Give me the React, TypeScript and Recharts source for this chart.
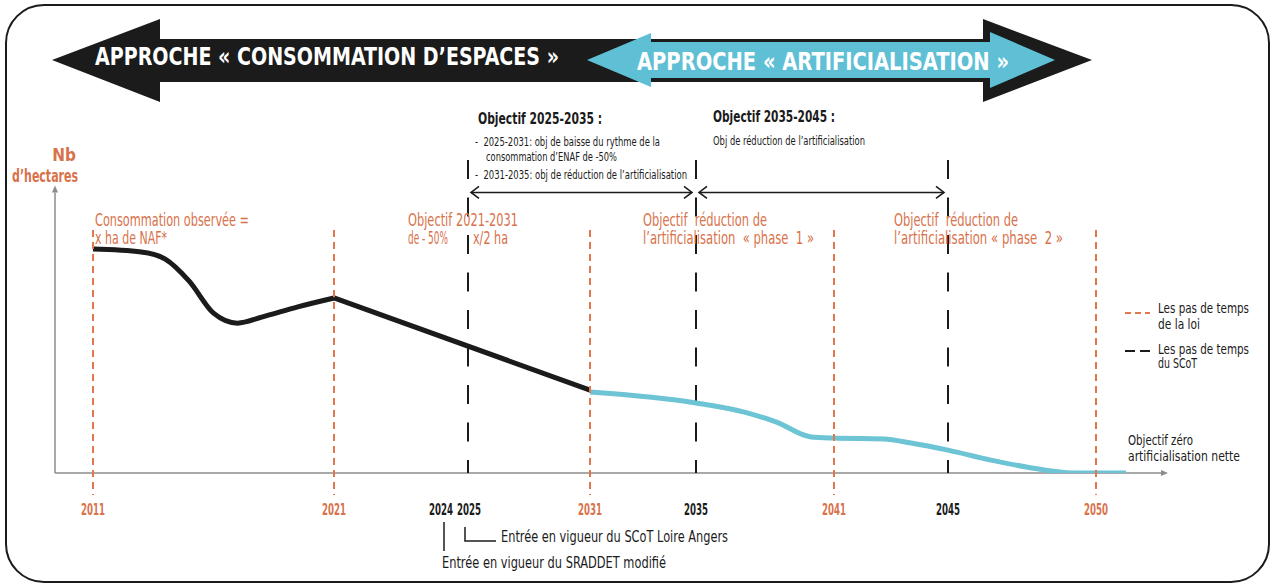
import React from 'react';
import { LineChart, Line, XAxis, YAxis, ReferenceLine } from 'recharts';

const FONT = "'Liberation Sans Narrow', 'DejaVu Sans Condensed', 'Arial Narrow', sans-serif";
const ORANGE = '#e2764d';
const ORANGE_TXT = '#d8724b';
const CYAN = '#6cc4d5';
const CYAN_ARROW = '#5fbfd5';
const INK = '#1b1b1b';
const AXIS_GREY = '#8c8c8c';

// ---- data ----
const TICK_YEARS = [2011, 2021, 2024, 2025, 2031, 2035, 2041, 2045, 2050];
const LAW_STEPS = [2011, 2021, 2031, 2041, 2050];
const SCOT_STEPS = [2025, 2035, 2045];
const SCOT_PERIODS = [[2025, 2035], [2035, 2045]];

const OBSERVED_YEARS = [2011, 2013, 2014, 2015, 2016, 2017, 2018, 2019.5, 2021];
const OBSERVED_HA = [78.3, 77.3, 74.8, 67.0, 55.9, 52.4, 54.5, 58.1, 61.2];

const TARGET_YEARS = [2021, 2031];
const TARGET_HA = [61.2, 29.0];

const ARTIF_YEARS = [2031, 2035, 2037.1, 2038.5, 2040, 2041, 2042.75, 2043.7, 2045, 2046.45, 2047.65, 2049.25, 2050, 2051];
const ARTIF_HA = [28.3, 24.5, 21.3, 17.8, 12.6, 12.2, 11.9, 10.5, 8.0, 4.5, 2.1, 0, 0, 0];

const zip = (xs: number[], ys: number[]) => xs.map((year, i) => ({ year, ha: ys[i] }));

// the time axis of the drawing is not linear, every marked year has its own spot
const AXIS_START = 2009.4;
const AXIS_END = 2052.4;
const KNOT_YEARS = [AXIS_START, 2011, 2021, 2024, 2025, 2031, 2035, 2041, 2045, 2050, AXIS_END];
const KNOT_PX = [55, 93, 334, 441, 468, 590, 696, 834, 948, 1096, 1168];

function yearScale(): any {
  let dom = [AXIS_START, AXIS_END];
  let rng = [0, 1];
  const p0 = KNOT_PX[0];
  const pn = KNOT_PX[KNOT_PX.length - 1];
  const frac = (v: number) => {
    let i = 0;
    while (i < KNOT_YEARS.length - 2 && v > KNOT_YEARS[i + 1]) i++;
    const t = (v - KNOT_YEARS[i]) / (KNOT_YEARS[i + 1] - KNOT_YEARS[i]);
    const px = KNOT_PX[i] + t * (KNOT_PX[i + 1] - KNOT_PX[i]);
    return (px - p0) / (pn - p0);
  };
  const s: any = (v: number) => rng[0] + frac(Number(v)) * (rng[1] - rng[0]);
  s.domain = (d?: number[]) => (d === undefined ? dom.slice() : ((dom = d.slice()), s));
  s.range = (r?: number[]) => (r === undefined ? rng.slice() : ((rng = r.slice()), s));
  s.copy = () => yearScale().domain(dom).range(rng);
  s.ticks = () => TICK_YEARS.slice();
  s.tickFormat = () => (v: number) => String(v);
  s.nice = () => s;
  s.clamp = () => s;
  s.invert = (p: number) => {
    const px = p0 + ((p - rng[0]) / (rng[1] - rng[0])) * (pn - p0);
    let i = 0;
    while (i < KNOT_PX.length - 2 && px > KNOT_PX[i + 1]) i++;
    const t = (px - KNOT_PX[i]) / (KNOT_PX[i + 1] - KNOT_PX[i]);
    return KNOT_YEARS[i] + t * (KNOT_YEARS[i + 1] - KNOT_YEARS[i]);
  };
  return s;
}

const AxisArrow = (p: any) => {
  const { x1, y1, x2, y2 } = p;
  const a = Math.atan2(y2 - y1, x2 - x1);
  const bx = x2 - 7 * Math.cos(a);
  const by = y2 - 7 * Math.sin(a);
  const nx = -Math.sin(a) * 3;
  const ny = Math.cos(a) * 3;
  return (
    <g>
      <line x1={x1} y1={y1} x2={bx} y2={by} stroke={AXIS_GREY} strokeWidth={1.5} />
      <polygon points={`${x2},${y2} ${bx + nx},${by + ny} ${bx - nx},${by - ny}`} fill={AXIS_GREY} />
    </g>
  );
};

const DoubleArrow = (p: any) => {
  const y = p.y1;
  const a = p.x1 + 3;
  const b = p.x2 - 4;
  return (
    <g stroke={INK} strokeWidth={1.6} fill="none">
      <line x1={a} y1={y} x2={b} y2={y} />
      <polyline points={`${a + 8},${y - 6} ${a},${y} ${a + 8},${y + 6}`} />
      <polyline points={`${b - 8},${y - 6} ${b},${y} ${b - 8},${y + 6}`} />
    </g>
  );
};

// 2024 and 2025 sit close together, so each label is nudged away from its neighbour
const YearTick = (p: any) => {
  const v = p.payload.value;
  const anchor = v === 2024 ? 'end' : v === 2025 ? 'start' : 'middle';
  const dx = v === 2024 ? 12 : v === 2025 ? -11 : 0;
  return (
    <text x={p.x + dx} y={p.y + 42} textAnchor={anchor} fontFamily={FONT} fontSize={15} fontWeight={700}
      textLength={24} lengthAdjust="spacingAndGlyphs"
      fill={LAW_STEPS.includes(v) ? ORANGE_TXT : INK}>
      {v}
    </text>
  );
};

const T = ({ x, y, w, size = 16, weight = 400, color = INK, anchor = 'start', children }: any) => (
  <text x={x} y={y} fontSize={size} fontWeight={weight} fill={color} textAnchor={anchor} fontFamily={FONT}
    textLength={w} lengthAdjust={w ? 'spacingAndGlyphs' : undefined} style={{ whiteSpace: 'pre' }}>
    {children}
  </text>
);

export default function App() {
  return (
    <div style={{ position: 'relative', width: 1274, height: 585, background: '#fff', fontFamily: FONT }}>
      <style>{`body { margin: 0; }`}</style>
      <div style={{ position: 'absolute', left: 0, top: 0 }}>
        <LineChart width={1274} height={585} margin={{ top: 187, right: 106, bottom: 72, left: 55 }}>
          <XAxis type="number" dataKey="year" domain={[AXIS_START, AXIS_END]} scale={yearScale()}
            ticks={TICK_YEARS} interval={0} tick={<YearTick />} axisLine={false} tickLine={false}
            tickSize={0} tickMargin={0} height={40} allowDataOverflow />
          <YAxis type="number" domain={[0, 100]} hide allowDataOverflow />

          <ReferenceLine segment={[{ x: AXIS_START, y: 0 }, { x: AXIS_END, y: 0 }]} shape={AxisArrow} ifOverflow="visible" />
          <ReferenceLine segment={[{ x: AXIS_START, y: 0 }, { x: AXIS_START, y: 100.5 }]} shape={AxisArrow} ifOverflow="visible" />

          {SCOT_STEPS.map((yr) => (
            <ReferenceLine key={`s${yr}`} segment={[{ x: yr, y: 109.4 }, { x: yr, y: 0 }]}
              stroke={INK} strokeWidth={2} strokeDasharray="19 18.5" ifOverflow="visible" />
          ))}
          {SCOT_PERIODS.map(([a, b]) => (
            <ReferenceLine key={`p${a}`} segment={[{ x: a, y: 98.1 }, { x: b, y: 98.1 }]}
              shape={DoubleArrow} ifOverflow="visible" />
          ))}

          <Line data={zip(OBSERVED_YEARS, OBSERVED_HA)} dataKey="ha" type="monotone" stroke={INK}
            strokeWidth={5} dot={false} activeDot={false} isAnimationActive={false} />
          <Line data={zip(TARGET_YEARS, TARGET_HA)} dataKey="ha" type="linear" stroke={INK}
            strokeWidth={5} dot={false} activeDot={false} isAnimationActive={false} />
          <Line data={zip(ARTIF_YEARS, ARTIF_HA)} dataKey="ha" type="monotone" stroke={CYAN}
            strokeWidth={5} dot={false} activeDot={false} isAnimationActive={false} />

          {LAW_STEPS.map((yr) => (
            <ReferenceLine key={`l${yr}`} segment={[{ x: yr, y: 85 }, { x: yr, y: -7.7 }]}
              stroke={ORANGE} strokeWidth={2} strokeDasharray="7 5" ifOverflow="visible" />
          ))}
        </LineChart>
      </div>

      <svg width={1274} height={585} style={{ position: 'absolute', left: 0, top: 0, pointerEvents: 'none' }}>
        <rect x={6} y={5} width={1263} height={577} rx={38} fill="none" stroke={INK} strokeWidth={2} />

        <polygon points="52,60 160,19 160,39 983,39 983,19 1092,60 983,102 983,82 160,82 160,102" fill={INK} />
        <polygon points="587,60 651,33 651,42 990,42 990,32 1055,60 990,88 990,78 651,78 651,87" fill={CYAN_ARROW} />
        <T x={95} y={65} w={464} size={24} weight={700} color="#fff">APPROCHE « CONSOMMATION D’ESPACES »</T>
        <T x={637} y={70} w={372} size={24} weight={700} color="#fff">APPROCHE « ARTIFICIALISATION »</T>

        <T x={76} y={161} size={17} weight={700} color={ORANGE_TXT} anchor="end">Nb</T>
        <T x={78} y={182} w={66} size={17} weight={700} color={ORANGE_TXT} anchor="end">d’hectares</T>

        <T x={95} y={226} w={154} size={17} color={ORANGE_TXT}>Consommation observée =</T>
        <T x={95} y={244} w={72} size={17} color={ORANGE_TXT}>x ha de NAF*</T>
        <T x={408} y={226} w={110} size={17} color={ORANGE_TXT}>Objectif 2021-2031</T>
        <T x={408} y={244} w={40} size={17} color={ORANGE_TXT}>de - 50%</T>
        <T x={473} y={244} w={35} size={17} color={ORANGE_TXT}>x/2 ha</T>
        <T x={643} y={226} w={124} size={17} color={ORANGE_TXT}>Objectif  réduction de</T>
        <T x={643} y={244} w={171} size={17} color={ORANGE_TXT}>l’artificialisation  « phase  1 »</T>
        <T x={894} y={226} w={124} size={17} color={ORANGE_TXT}>Objectif  réduction de</T>
        <T x={894} y={244} w={169} size={17} color={ORANGE_TXT}>l’artificialisation « phase  2 »</T>

        <T x={478} y={124} w={124} size={16} weight={700}>Objectif 2025-2035 :</T>
        <T x={475} y={146} w={185} size={12}>-  2025-2031: obj de baisse du rythme de la</T>
        <T x={486} y={161} w={131} size={12}>consommation d’ENAF de -50%</T>
        <T x={475} y={179} w={212} size={12}>-  2031-2035: obj de réduction de l’artificialisation</T>
        <T x={713} y={122} w={122} size={16} weight={700}>Objectif 2035-2045 :</T>
        <T x={713} y={145} w={152} size={12}>Obj de réduction de l’artificialisation</T>

        <line x1={1125} y1={313} x2={1150} y2={313} stroke={ORANGE} strokeWidth={2} strokeDasharray="6 4" />
        <T x={1158} y={313} w={91} size={13.5}>Les pas de temps</T>
        <T x={1158} y={329} w={42} size={13.5}>de la loi</T>
        <line x1={1125} y1={351} x2={1150} y2={351} stroke={INK} strokeWidth={2} strokeDasharray="10 5" />
        <T x={1158} y={354} w={91} size={13.5}>Les pas de temps</T>
        <T x={1158} y={368} w={39} size={13.5}>du SCoT</T>

        <T x={1128} y={445} w={65} size={14}>Objectif zéro</T>
        <T x={1128} y={461} w={112} size={14}>artificialisation nette</T>

        <polyline points="465,527 465,541 496,541" fill="none" stroke={INK} strokeWidth={1.5} />
        <T x={501} y={542} w={227} size={15}>Entrée en vigueur du SCoT Loire Angers</T>
        <line x1={444} y1={522} x2={444} y2={551} stroke={INK} strokeWidth={1.5} />
        <T x={442} y={568} w={224} size={15}>Entrée en vigueur du SRADDET modifié</T>
      </svg>
    </div>
  );
}
